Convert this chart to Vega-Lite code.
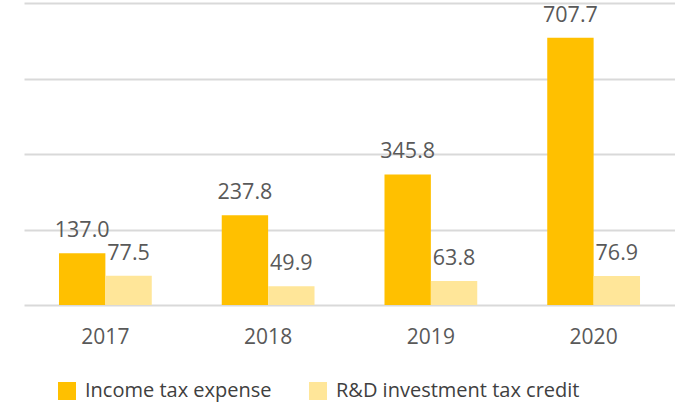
{
  "$schema": "https://vega.github.io/schema/vega-lite/v6.json",
  "autosize": "none",
  "padding": {"left": 24, "top": 3, "right": 0, "bottom": 97},
  "width": 651,
  "height": 302,
  "background": "white",
  "config": {"view": {"stroke": null}, "font": "Open Sans"},
  "data": {
    "values": [
      {"year": "2017", "series": "Income tax expense", "value": 137.0},
      {"year": "2017", "series": "R&D investment tax credit", "value": 77.5},
      {"year": "2018", "series": "Income tax expense", "value": 237.8},
      {"year": "2018", "series": "R&D investment tax credit", "value": 49.9},
      {"year": "2019", "series": "Income tax expense", "value": 345.8},
      {"year": "2019", "series": "R&D investment tax credit", "value": 63.8},
      {"year": "2020", "series": "Income tax expense", "value": 707.7},
      {"year": "2020", "series": "R&D investment tax credit", "value": 76.9}
    ]
  },
  "encoding": {
    "x": {
      "field": "year", "type": "nominal",
      "scale": {"paddingInner": 0.43, "paddingOuter": 0.215},
      "axis": {"title": null, "labelAngle": 0, "domain": false, "ticks": false, "labelBaseline": "alphabetic", "labelPadding": 38, "labelFontSize": 21, "labelColor": "#595959", "labelFont": "Open Sans"}
    },
    "xOffset": {"field": "series", "type": "nominal", "scale": {"paddingInner": 0, "paddingOuter": 0}},
    "y": {
      "field": "value", "type": "quantitative",
      "scale": {"domain": [0, 800], "nice": false},
      "axis": {"title": null, "labels": false, "ticks": false, "domain": false, "values": [0, 200, 400, 600, 800], "gridColor": "#D9D9D9", "gridWidth": 2}
    }
  },
  "layer": [
    {
      "mark": {"type": "bar"},
      "encoding": {
        "color": {
          "field": "series", "type": "nominal",
          "scale": {"domain": ["Income tax expense", "R&D investment tax credit"], "range": ["#FFC000", "#FFE699"]},
          "legend": {
            "title": null, "orient": "none", "direction": "horizontal",
            "legendX": 33, "legendY": 378,
            "symbolType": "square", "symbolSize": 324, "symbolStrokeWidth": 0,
            "labelFontSize": 20, "labelColor": "#404040", "labelFont": "Open Sans",
            "columnPadding": 36, "labelOffset": 8, "labelLimit": 400
          }
        }
      }
    },
    {
      "mark": {"type": "text", "baseline": "alphabetic", "dy": -16, "fontSize": 21.5, "color": "#595959", "font": "Open Sans"},
      "encoding": {
        "text": {"field": "value", "type": "quantitative", "format": ".1f"}
      }
    }
  ]
}
